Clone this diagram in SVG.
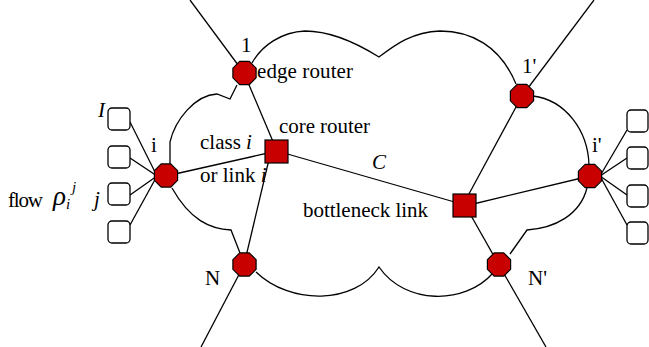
<svg xmlns="http://www.w3.org/2000/svg" width="649" height="347" viewBox="0 0 649 347">
<style>
.ln{fill:none;stroke:#000;stroke-width:1.3}
.rt{fill:#c80000;stroke:#000;stroke-width:1.2}
.bx{fill:#fff;stroke:#000;stroke-width:1.3}
text{font-family:"Liberation Serif","Times New Roman",serif;font-size:21px;fill:#000}
.it{font-style:italic}
.big{font-size:27px}
.sm{font-size:15px}
</style>
<defs>
<polygon id="oct" class="rt" points="4.8,-11.6 11.6,-4.8 11.6,4.8 4.8,11.6 -4.8,11.6 -11.6,4.8 -11.6,-4.8 -4.8,-11.6"/>
</defs>
<rect width="649" height="347" fill="#fff"/>
<g id="connectors">
<path id="cloud" class="ln" d="M252,63 C262,45 282,32 305,31 C330,31 355,42 379,57 C395,45 412,32 440,31 C470,31 500,45 516,84 M533,96 C565,100 588,130 589,165 M587,188 C580,215 555,228 527,230 L510,254 M493,273 C465,305 405,305 379,267 C355,305 290,305 256,272 M240,253 L231,230 C210,229 190,220 172,188 M170,164 L170,142 C175,120 195,95 217,94 L230,99 L237,85"/>
<line class="ln" x1="190" y1="0" x2="244" y2="73"/>
<line class="ln" x1="244" y1="73" x2="277" y2="151"/>
<line class="ln" x1="166" y1="176" x2="277" y2="151"/>
<line class="ln" x1="244" y1="265" x2="271" y2="151"/>
<line class="ln" x1="244" y1="265" x2="201" y2="347"/>
<line class="ln" x1="277" y1="151" x2="465" y2="205"/>
<line class="ln" x1="522" y1="96" x2="463" y2="205"/>
<line class="ln" x1="590" y1="176" x2="465" y2="206"/>
<line class="ln" x1="465" y1="205" x2="499" y2="265"/>
<line class="ln" x1="499" y1="265" x2="546" y2="347"/>
<line class="ln" x1="522" y1="96" x2="594" y2="0"/>
<line class="ln" x1="130" y1="122" x2="157" y2="176"/>
<line class="ln" x1="130" y1="158" x2="157" y2="176"/>
<line class="ln" x1="130" y1="195" x2="157" y2="176"/>
<line class="ln" x1="130" y1="225" x2="157" y2="176"/>
<line class="ln" x1="600" y1="176" x2="627" y2="130"/>
<line class="ln" x1="600" y1="176" x2="627" y2="158"/>
<line class="ln" x1="600" y1="176" x2="627" y2="195"/>
<line class="ln" x1="600" y1="176" x2="627" y2="225"/>
</g>
<g id="flows-left">
<rect class="bx" x="108" y="108" width="22" height="22" rx="4"/>
<rect class="bx" x="108" y="146" width="22" height="22" rx="4"/>
<rect class="bx" x="108" y="183" width="22" height="22" rx="4"/>
<rect class="bx" x="108" y="221" width="22" height="22" rx="4"/>
</g>
<g id="flows-right">
<rect class="bx" x="627" y="110" width="21" height="22" rx="4"/>
<rect class="bx" x="627" y="147" width="21" height="22" rx="4"/>
<rect class="bx" x="627" y="185" width="21" height="22" rx="4"/>
<rect class="bx" x="627" y="222" width="21" height="22" rx="4"/>
</g>
<g id="router-1"><use href="#oct" x="244.5" y="73"/></g>
<g id="router-i"><use href="#oct" x="166" y="175.5"/></g>
<g id="router-N"><use href="#oct" x="244.5" y="264.5"/></g>
<g id="router-1p"><use href="#oct" x="522" y="96"/></g>
<g id="router-ip"><use href="#oct" x="590" y="176"/></g>
<g id="router-Np"><use href="#oct" x="499" y="264.5"/></g>
<g id="core-router"><rect class="rt" x="265" y="140" width="23" height="23"/></g>
<g id="bottleneck-router"><rect class="rt" x="453" y="194" width="23" height="23"/></g>
<g id="labels">
<text x="241" y="52">1</text>
<text x="257" y="78" textLength="96">edge router</text>
<text x="279" y="133" textLength="91">core router</text>
<text x="200" y="149">class <tspan class="it">i</tspan></text>
<text x="200" y="182">or link <tspan class="it">i</tspan></text>
<text x="151" y="152">i</text>
<text class="it" x="98" y="117">I</text>
<text x="8" y="207" textLength="35">flow</text>
<text class="it big" x="53" y="205">ρ</text>
<text class="it sm" x="66" y="209">i</text>
<text class="it sm" x="72" y="192">j</text>
<text class="it" x="94" y="206">j</text>
<text class="it" x="372" y="169">C</text>
<text x="303" y="217" textLength="125">bottleneck link</text>
<text x="522" y="73">1'</text>
<text x="592" y="152">i'</text>
<text x="205" y="285">N</text>
<text x="528" y="285">N'</text>
</g>
</svg>
